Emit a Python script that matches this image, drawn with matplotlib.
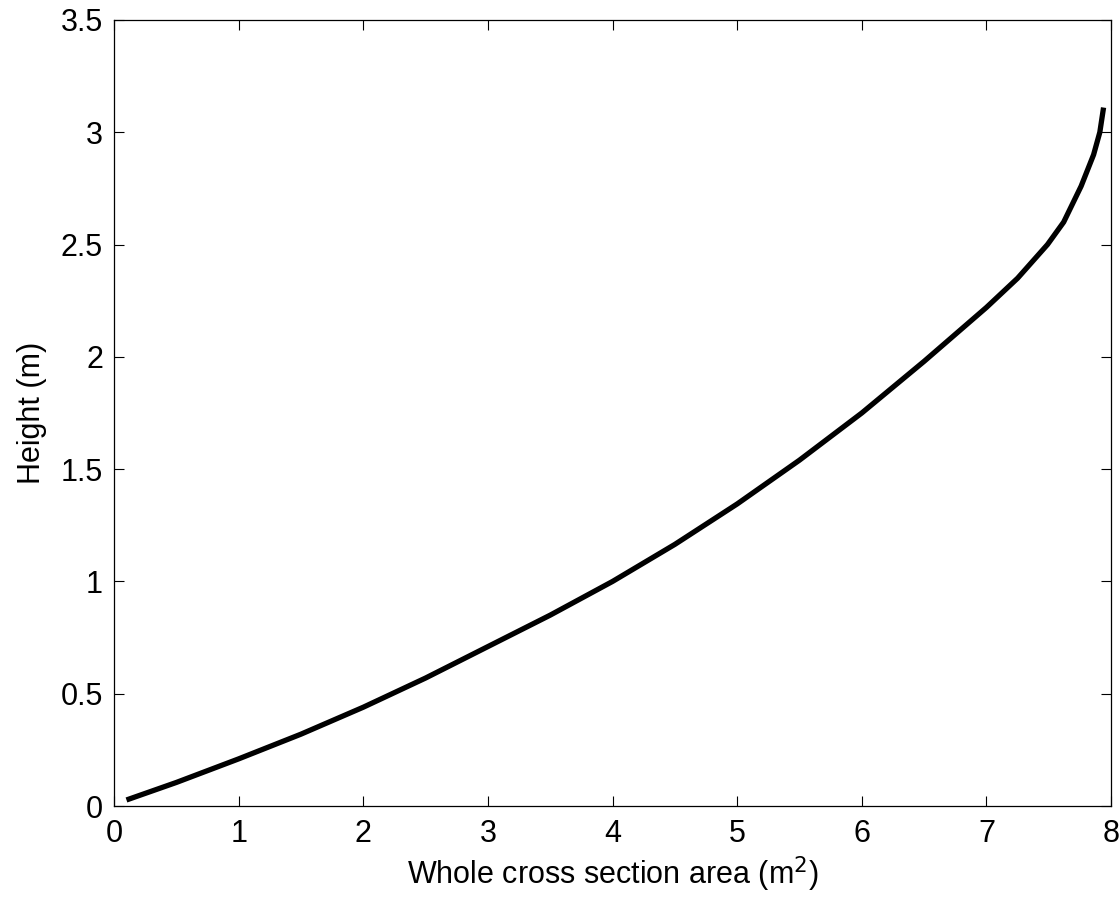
import numpy as np
import matplotlib
matplotlib.use('Agg')
import matplotlib.pyplot as plt

# whole cross section area (m^2) vs height (m)
area = [0.1, 0.5, 1.0, 1.5, 2.0, 2.5, 3.0, 3.5, 4.0, 4.5, 5.0, 5.5, 6.0,
        6.5, 7.0, 7.25, 7.49, 7.62, 7.76, 7.86, 7.91, 7.94]
height = [0.027, 0.105, 0.21, 0.32, 0.44, 0.57, 0.71, 0.85, 1.0, 1.165,
          1.345, 1.54, 1.75, 1.98, 2.22, 2.35, 2.5, 2.6, 2.76, 2.9, 3.0, 3.11]

plt.rcParams['font.family'] = ['Liberation Sans', 'DejaVu Sans']
plt.rcParams['font.size'] = 22

fig = plt.figure(figsize=(11.2, 8.99), dpi=100)
ax = fig.add_axes([0.1018, 0.1034, 0.8902, 0.8744])
ax.plot(area, height, 'k-', lw=3.8, solid_capstyle='butt',
        solid_joinstyle='round')

ax.set_xlim(0, 8)
ax.set_ylim(0, 3.5)
ax.set_xticks(np.arange(0, 9, 1))
ax.set_yticks(np.arange(0, 3.6, 0.5))
ax.set_yticklabels(['0', '0.5', '1', '1.5', '2', '2.5', '3', '3.5'])
ax.tick_params(direction='in', length=7, width=0.8, top=True, right=True,
               labelsize=22)
ax.tick_params(axis='x', pad=9)
ax.tick_params(axis='y', pad=8)
for s in ax.spines.values():
    s.set_linewidth(0.9)

ax.set_xlabel('Whole cross section area (m$^2$)', fontsize=22, labelpad=4)
ax.set_ylabel('Height (m)', fontsize=22, labelpad=10)

fig.savefig('out.png', dpi=100)
